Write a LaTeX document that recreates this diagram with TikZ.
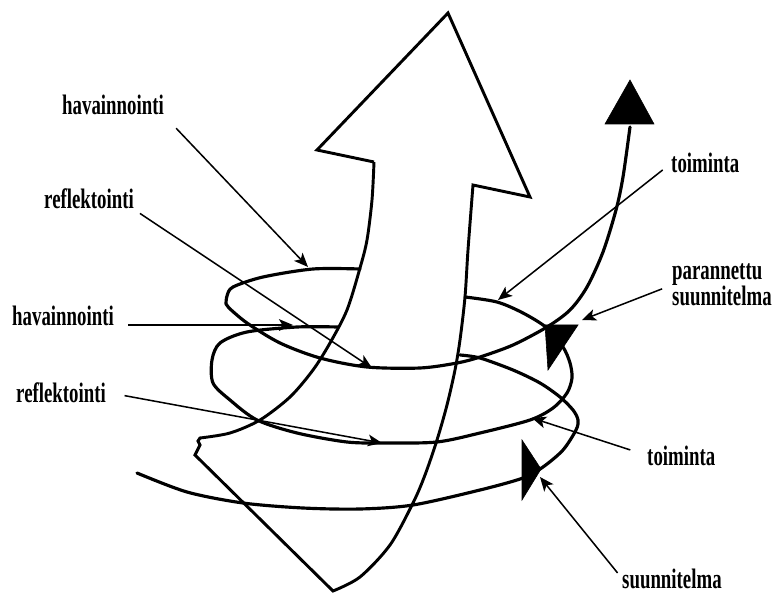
\documentclass[tikz,border=0pt]{standalone}
\usepackage{fontspec}
\newfontfamily\lblfont{Liberation Serif}[FakeStretch=0.67]
\usetikzlibrary{arrows.meta}

\begin{document}
\begin{tikzpicture}[x=0.03cm, y=-0.03cm, >={Stealth[length=12pt,width=10pt,inset=3pt]},
  lbl/.style={inner sep=0pt, font=\lblfont\bfseries\fontsize{24}{22}\selectfont},
  pointer/.style={->, line width=1.3pt},
  coil/.style={line width=2.7pt, line join=round, line cap=round},
  shaft/.style={line width=2.5pt, line join=miter},
  tiphead/.style={fill=black, draw=black, line width=0.5pt, line join=miter}]
\useasboundingbox (0,0) rectangle (773,593);

% the big arrow
\draw[shaft] (374,162) -- (317,150) -- (448,13) -- (530,197) -- (473,185)
  -- plot[smooth] coordinates {(473,185) (468,250) (465,297) (460,340) (455,370) (447,405)
     (437,440) (425,475) (413,503) (390,545) (360,577) (333,591)}
  -- (195,455) -- (200,445) -- (198,441)
  -- plot[smooth] coordinates {(200,438) (230,433) (260,420) (290,397) (313,370) (330,343)
     (347,310) (360,268) (367,240) (372,200) (374,162)};

% the spiral, lowest turn first
\draw[coil] plot[smooth] coordinates {(137,473) (187,492) (243,503) (303,508) (360,509)
  (413,505) (480,490) (523,478) (543,467) (563,450) (576,430) (578,420) (573,410)
  (560,397) (540,383) (513,370) (480,358) (460,355)};
\draw[coil] plot[smooth] coordinates {(338,327) (297,327) (247,332) (220,343) (212,360)
  (213,383) (230,400) (257,420) (297,433) (347,442) (387,443) (437,442) (480,433)
  (530,420) (553,408) (567,393) (572,378) (570,363) (563,347) (547,328) (523,313)
  (497,302) (465,297)};
\draw[coil] plot[smooth] coordinates {(360,269) (313,269) (263,277) (233,287) (227,296)
  (226,304)} -- plot[smooth] coordinates {(229,308) (247,323) (280,343) (320,358)
  (367,367) (420,368) (457,363) (480,357) (513,345) (547,327) (570,310) (587,287)
  (603,252) (616,210) (623,177) (630,127)};

\fill[tiphead] (630,80) -- (654,124) -- (605,124) -- cycle;
\fill[tiphead] (545,325) -- (578,325) -- (548,370) -- cycle;
\fill[tiphead] (522,440) -- (541,469) -- (522,500) -- cycle;

% points on the spiral
\coordinate (hav1tip) at (308,267);
\coordinate (ref1tip) at (372,368);
\coordinate (hav2tip) at (293,325);
\coordinate (ref2tip) at (382,443);
\coordinate (toi1tip) at (498,300);
\coordinate (partip) at (582,320);
\coordinate (toi2tip) at (532,418);
\coordinate (suutip) at (540,477);

\node[lbl, anchor=base west] (hav1) at (62,115) {havainnointi};
\node[lbl, anchor=base west] (ref1) at (44,209) {reflektointi};
\node[lbl, anchor=base west] (hav2) at (12,325) {havainnointi};
\node[lbl, anchor=base west] (ref2) at (16,402) {reflektointi};
\node[lbl, anchor=base west] (toi1) at (671,173) {toiminta};
\node[lbl, anchor=west, align=left] (par) at (672,285) {parannettu\\suunnitelma};
\node[lbl, anchor=base west] (toi2) at (647,465) {toiminta};
\node[lbl, anchor=base west] (suu) at (622,588) {suunnitelma};

\draw[pointer, shorten <=15pt] (hav1.south east) -- (hav1tip);
\draw[pointer, shorten <=6pt] (ref1.south east) -- (ref1tip);
\draw[pointer, shorten <=12pt] (hav2.base east) -- (hav2tip);
\draw[pointer, shorten <=16pt] (ref2.east) -- (ref2tip);
\draw[pointer, shorten <=9pt] (toi1.west) -- (toi1tip);
\draw[pointer, shorten <=9pt] (par.west) -- (partip);
\draw[pointer, shorten <=15pt] (toi2.west) -- (toi2tip);
\draw[pointer, shorten <=6pt] (suu.west) -- (suutip);
\end{tikzpicture}
\end{document}
